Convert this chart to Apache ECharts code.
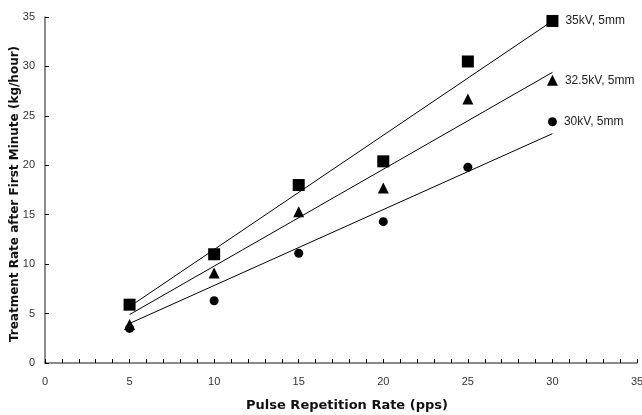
<!DOCTYPE html>
<html>
<head>
<meta charset="utf-8">
<script src="https://cdn.jsdelivr.net/npm/echarts@6/dist/echarts.min.js"></script>
<style>
html,body{margin:0;padding:0;background:#fff;}
#c{width:642px;height:415px;}
</style>
</head>
<body>
<div id="c"></div>
<script>
// Data
var xValues = [5, 10, 15, 20, 25, 30];
var seriesNames = ['35kV, 5mm', '32.5kV, 5mm', '30kV, 5mm'];
var y35 = [5.9, 11.0, 18.0, 20.4, 30.5, 34.6];
var y325 = [3.9, 9.1, 15.3, 17.7, 26.7, 28.6];
var y30 = [3.5, 6.3, 11.1, 14.3, 19.8, 24.4];
// Trend line end points
var trendX = [5, 30];
var trend35 = [5.7, 34.6];
var trend325 = [4.9, 29.4];
var trend30 = [4.0, 23.2];
var xTicks = [0, 5, 10, 15, 20, 25, 30, 35];
var yTicks = [0, 5, 10, 15, 20, 25, 30, 35];

var FONT = '"Liberation Sans", Arial, sans-serif';
var TITLE_FONT = '"DejaVu Sans", "Liberation Sans", Arial, sans-serif';

function pts(xs, ys) {
  return xs.map(function (x, i) { return [x, ys[i]]; });
}

function scatter(name, ys, symbol, size) {
  var last = ys.length - 1;
  return {
    name: name,
    type: 'scatter',
    symbol: symbol,
    symbolSize: size,
    z: 5,
    itemStyle: { color: '#000', opacity: 1 },
    data: pts(xValues, ys),
    label: {
      show: true,
      position: 'right',
      distance: 7,
      color: '#222',
      fontFamily: FONT,
      fontSize: 12,
      formatter: function (p) { return p.dataIndex === last ? name : ''; }
    }
  };
}

function trend(ys) {
  return {
    type: 'line',
    symbol: 'none',
    z: 3,
    silent: true,
    lineStyle: { color: '#000', width: 1 },
    data: pts(trendX, ys)
  };
}

var chart = echarts.init(document.getElementById('c'), null, { renderer: 'canvas' });
chart.setOption({
  animation: false,
  backgroundColor: '#fff',
  grid: { left: 45, right: 5, top: 17, bottom: 52, containLabel: false, outerBoundsMode: 'none' },
  xAxis: {
    type: 'value',
    min: xTicks[0],
    max: xTicks[xTicks.length - 1],
    interval: 5,
    name: 'Pulse Repetition Rate (pps)',
    nameLocation: 'middle',
    nameGap: 36,
    nameTextStyle: { fontFamily: TITLE_FONT, fontSize: 13, fontWeight: 'bold', color: '#111', padding: [0, 0, 0, 12] },
    axisLine: { show: true, onZero: false, lineStyle: { color: '#666', width: 1.5 } },
    axisTick: { show: true, inside: true, length: 4, lineStyle: { color: '#000', width: 1 } },
    minorTick: { show: true, splitNumber: 5, length: 4, lineStyle: { color: '#000', width: 1 } },
    splitLine: { show: false },
    axisLabel: { fontFamily: FONT, fontSize: 11, color: '#333', margin: 13 }
  },
  yAxis: {
    type: 'value',
    min: yTicks[0],
    max: yTicks[yTicks.length - 1],
    interval: 5,
    name: 'Treatment Rate after First Minute (kg/hour)',
    nameLocation: 'middle',
    nameGap: 24,
    nameMoveOverlap: false,
    nameTextStyle: { fontFamily: TITLE_FONT, fontSize: 12, fontWeight: 'bold', color: '#111', padding: [0, 8, 0, 0] },
    axisLine: { show: true, onZero: false, lineStyle: { color: '#666', width: 1.5 } },
    axisTick: { show: true, inside: true, length: 4, lineStyle: { color: '#000', width: 1 } },
    splitLine: { show: false },
    axisLabel: { fontFamily: FONT, fontSize: 11, color: '#333', margin: 10 }
  },
  series: [
    trend(trend35),
    trend(trend325),
    trend(trend30),
    scatter(seriesNames[0], y35, 'rect', 12),
    scatter(seriesNames[1], y325, 'triangle', 11),
    scatter(seriesNames[2], y30, 'circle', 9)
  ]
});
</script>
</body>
</html>
